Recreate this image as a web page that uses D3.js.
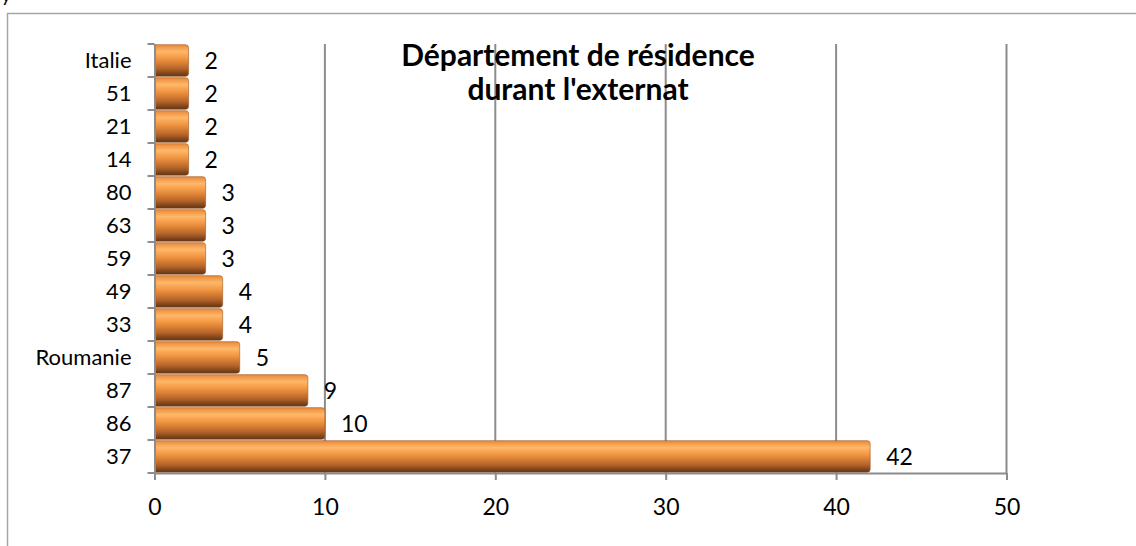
<!DOCTYPE html>
<html>
<head>
<meta charset="utf-8">
<script src="https://cdn.jsdelivr.net/npm/d3@7"></script>
<style>
  body { margin: 0; background: #fff; overflow: hidden; }
  text { font-family: Lato, "Open Sans", sans-serif; fill: #000; }
</style>
</head>
<body>
<div id="chart"></div>
<script>
'use strict';

// categories from bottom to top, as drawn
const categories = ["37", "86", "87", "Roumanie", "33", "49", "59", "63", "80", "14", "21", "51", "Italie"];
const counts = [42, 10, 9, 5, 4, 4, 3, 3, 3, 2, 2, 2, 2];
const xTicks = [0, 10, 20, 30, 40, 50];
const titleLines = ["Département de résidence", "durant l'externat"];

const W = 1136, H = 546;
const plot = { left: 154.5, right: 1006.5, top: 44, bottom: 473 };

const svg = d3.select("#chart").append("svg")
    .attr("width", W)
    .attr("height", H);

// bar gradient (cylinder look)
const defs = svg.append("defs");
const grad = defs.append("linearGradient")
    .attr("id", "barGrad")
    .attr("x1", 0).attr("y1", 0).attr("x2", 0).attr("y2", 1);
[[0, "#e8883a"], [0.22, "#ffb868"], [0.45, "#f0943f"], [0.75, "#b8652a"], [1, "#5e3414"]]
    .forEach(s => grad.append("stop").attr("offset", s[0]).attr("stop-color", s[1]));

// clipped text fragment at top-left
svg.append("text")
    .attr("x", 1).attr("y", 2)
    .style("font-size", "20px")
    .text("y");

// chart border (runs past the right and bottom edges)
svg.append("rect")
    .attr("x", 7.5).attr("y", 13.5)
    .attr("width", W + 20).attr("height", H + 20)
    .attr("fill", "none")
    .attr("stroke", "#a6a6a6")
    .attr("stroke-width", 1.5);

const x = d3.scaleLinear()
    .domain([0, 50])
    .range([plot.left, plot.right]);

const y = d3.scaleBand()
    .domain(categories)
    .range([plot.bottom, plot.top])
    .paddingInner(0.04)
    .paddingOuter(0.02);

// gridlines
svg.append("g")
    .selectAll("line")
    .data(xTicks.slice(1))
    .enter()
    .append("line")
    .attr("x1", d => x(d)).attr("x2", d => x(d))
    .attr("y1", plot.top).attr("y2", plot.bottom)
    .attr("stroke", "#8c8c8c")
    .attr("stroke-width", 2);

// bars
const bars = svg.append("g");
categories.forEach((c, i) => {
    const x0 = x(0), x1 = x(counts[i]);
    const by = y(c), bh = y.bandwidth();
    const r = 3;
    bars.append("path")
        .attr("d", `M${x0},${by} L${x1 - r},${by} Q${x1},${by} ${x1},${by + r} L${x1},${by + bh - r} Q${x1},${by + bh} ${x1 - r},${by + bh} L${x0},${by + bh} Z`)
        .attr("fill", "url(#barGrad)")
        .attr("stroke", "#a0581e")
        .attr("stroke-width", 0.6);
});

// value labels
svg.append("g")
    .selectAll("text")
    .data(categories)
    .enter()
    .append("text")
    .attr("x", (d, i) => x(counts[i]) + 16)
    .attr("y", d => y(d) + y.bandwidth() / 2 + 8)
    .style("font-size", "23px")
    .text((d, i) => counts[i]);

// y axis
const yAxis = svg.append("g")
    .attr("transform", `translate(${plot.left},0)`)
    .call(d3.axisLeft(y).tickSize(0).tickPadding(23));
yAxis.selectAll("text").style("font-size", "22px").attr("dy", "0.35em");
yAxis.select(".domain").attr("stroke", "#8c8c8c").attr("stroke-width", 2);
// ticks between categories
const yEdges = d3.range(categories.length + 1).map(i => plot.bottom - i * (plot.bottom - plot.top) / categories.length);
yAxis.selectAll(".edge")
    .data(yEdges)
    .enter()
    .append("line")
    .attr("class", "edge")
    .attr("x1", -7).attr("x2", 0)
    .attr("y1", d => d).attr("y2", d => d)
    .attr("stroke", "#8c8c8c")
    .attr("stroke-width", 2);

// x axis
const xAxis = svg.append("g")
    .attr("transform", `translate(0,${plot.bottom})`)
    .call(d3.axisBottom(x).tickValues(xTicks).tickSize(7).tickSizeOuter(0).tickPadding(19));
xAxis.selectAll("text").style("font-size", "23px");
xAxis.select(".domain").attr("stroke", "#8c8c8c").attr("stroke-width", 2);
xAxis.selectAll(".tick line").attr("stroke", "#8c8c8c").attr("stroke-width", 2);

// title
svg.append("text")
    .attr("x", 578).attr("y", 66)
    .attr("text-anchor", "middle")
    .style("font-size", "30px")
    .style("font-weight", "bold")
    .selectAll("tspan")
    .data(titleLines)
    .enter()
    .append("tspan")
    .attr("x", 578)
    .attr("dy", (d, i) => i === 0 ? 0 : 34)
    .text(d => d);
</script>
</body>
</html>
